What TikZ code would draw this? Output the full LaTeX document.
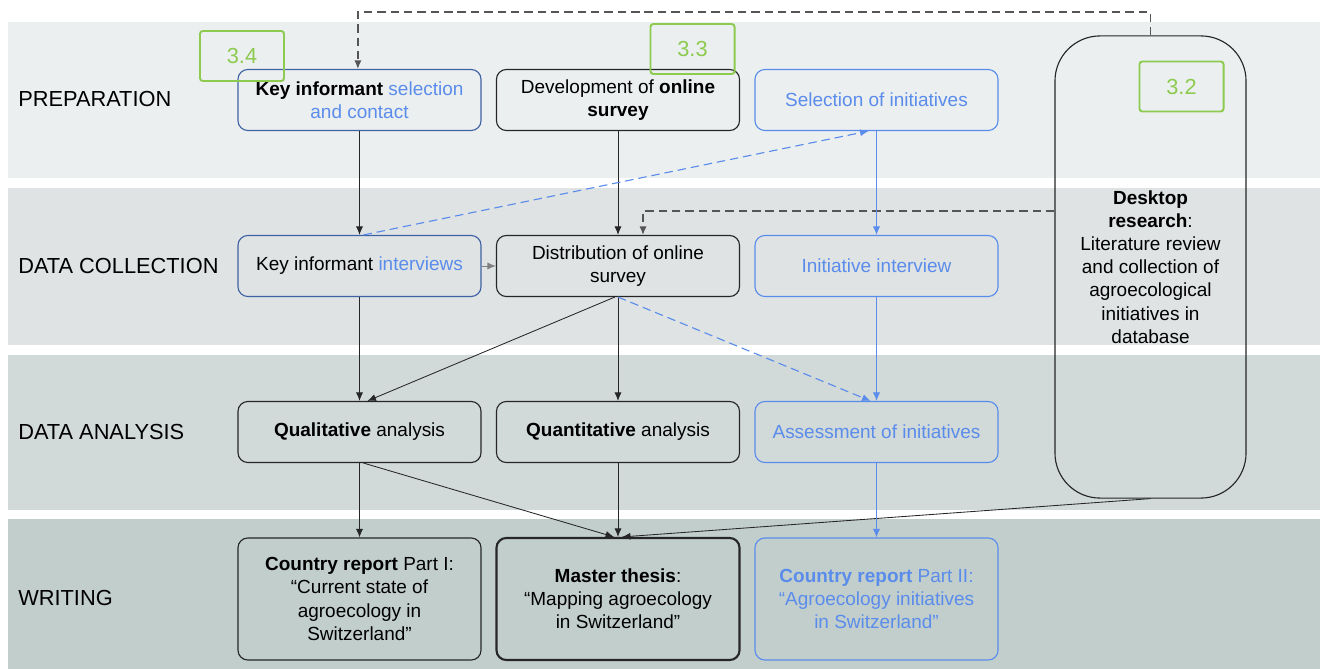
\documentclass[tikz,border=0pt]{standalone}
\usepackage{fontspec}
\setmainfont{Liberation Sans}
\usetikzlibrary{arrows.meta}
\definecolor{bandA}{HTML}{ECEFF0}
\definecolor{bandB}{HTML}{DFE3E3}
\definecolor{bandC}{HTML}{D1D9D9}
\definecolor{bandD}{HTML}{C2CECC}
\definecolor{ablue}{HTML}{5A8CEB}
\definecolor{tagreen}{HTML}{8CCB50}
\definecolor{dashgrey}{HTML}{555555}
\tikzset{
	box/.style={draw=black!85, line width=0.8pt, rounded corners=7pt, minimum width=6.075cm, minimum height=1.525cm, align=center, font=\fontsize{13.5}{16.5}\selectfont},
	mixbox/.style={box, draw=ablue!70!black},
	bluebox/.style={box, draw=ablue, text=ablue},
	tallbox/.style={box, minimum height=3.05cm},
	tag/.style={draw=tagreen, text=tagreen, line width=1.4pt, rounded corners=2pt, minimum width=2.1cm, minimum height=1.25cm, font=\fontsize{15.5}{17}\selectfont},
	phase/.style={anchor=west, inner sep=0pt, font=\fontsize{15.5}{17}\selectfont},
	flow/.style={-{Latex[length=6pt,width=5pt]}, black!85, line width=0.6pt},
	blueflow/.style={flow, ablue},
	link/.style={flow, dashgrey, dash pattern=on 6pt off 3.5pt, line width=0.9pt},
	bluelink/.style={blueflow, dash pattern=on 6pt off 3.5pt, line width=0.8pt}
}

\begin{document}
\begin{tikzpicture}[x=0.025cm, y=-0.025cm]
		%%%%% START %%%%%
		\useasboundingbox (0,0) rectangle (1320,669);
		
		% phase bands
		\fill[bandA] (8,22) rectangle (1320,178);
		\fill[bandB] (8,188) rectangle (1320,345);
		\fill[bandC] (8,355) rectangle (1320,510);
		\fill[bandD] (8,519) rectangle (1320,669);
		
		\node[phase] (lprep) at (18,99) {PREPARATION};
		\node[phase] (lcoll) at (18,266) {DATA COLLECTION};
		\node[phase] (lana) at (18,432) {DATA ANALYSIS};
		\node[phase] (lwrite) at (18,598) {WRITING};
		
		% preparation
		\node[mixbox] (kisel) at (359.5,100) {\textbf{Key informant} \textcolor{ablue}{selection}\\\textcolor{ablue}{and contact}};
		\node[box] (devsurvey) at (618,100) {Development of \textbf{online}\\\textbf{survey}};
		\node[bluebox] (selinit) at (876.5,100) {Selection of initiatives};
		
		% data collection
		\node[mixbox] (kiint) at (359.5,266) {Key informant \textcolor{ablue}{interviews}};
		\node[box] (distrib) at (618,266) {Distribution of online\\survey};
		\node[bluebox] (initint) at (876.5,266) {Initiative interview};
		
		% data analysis
		\node[box] (qual) at (359.5,432) {\textbf{Qualitative} analysis};
		\node[box] (quant) at (618,432) {\textbf{Quantitative} analysis};
		\node[bluebox] (assess) at (876.5,432) {Assessment of initiatives};
		
		% writing
		\node[tallbox] (report1) at (359.5,599) {\textbf{Country report} Part I:\\“Current state of\\agroecology in\\Switzerland"};
		\node[tallbox, line width=1.5pt] (master) at (618,599) {\textbf{Master thesis}:\\“Mapping agroecology\\in Switzerland”};
		\node[tallbox, draw=ablue, text=ablue] (report2) at (876.5,599) {\textbf{Country report} Part II:\\“Agroecology initiatives\\in Switzerland”};
		
		% desktop research
		\node[box, rounded corners=32pt, minimum width=4.775cm, minimum height=11.55cm] (desk) at (1150.5,267) {\textbf{Desktop}\\\textbf{research}:\\Literature review\\and collection of\\agroecological\\initiatives in\\database};
		
		% chapter tags
		\node[tag] (tagA) at (242,56) {3.4};
		\node[tag] (tagB) at (692.5,49) {3.3};
		\node[tag] (tagC) at (1181.5,86.5) {3.2};
		
		% connectors
		\coordinate (topbend) at (0,12);
		\coordinate (midbend) at (0,211);
		\draw[link] (desk.north) -- (desk.north |- topbend) -| ([xshift=-0.04cm]kisel.north);
		\draw[link] (desk.west |- midbend) -| ([xshift=0.625cm]distrib.north);
		
		\draw[flow] (kisel) -- (kiint);
		\draw[flow] (devsurvey) -- (distrib);
		\draw[blueflow] (selinit) -- (initint);
		\draw[bluelink] ([xshift=0.1cm]kiint.north) -- ([xshift=-0.2cm]selinit.south);
		\draw[flow, gray] (kiint) -- (distrib);
		
		\draw[flow] (kiint) -- (qual);
		\draw[flow] ([xshift=-0.08cm]distrib.south) -- ([xshift=0.2cm]qual.north);
		\draw[flow] (distrib) -- (quant);
		\draw[bluelink] (distrib.south) -- ([xshift=-0.15cm]assess.north);
		\draw[blueflow] (initint) -- (assess);
		
		\draw[flow] (qual) -- (report1);
		\draw[flow] ([xshift=0.1cm]qual.south) -- ([xshift=-0.1cm]master.north);
		\draw[flow] (quant) -- (master);
		\draw[flow] (desk.south) -- ([xshift=0.1cm]master.north);
		\draw[blueflow] (assess) -- (report2);
		
		%%%%% END %%%%%
\end{tikzpicture}
\end{document}
